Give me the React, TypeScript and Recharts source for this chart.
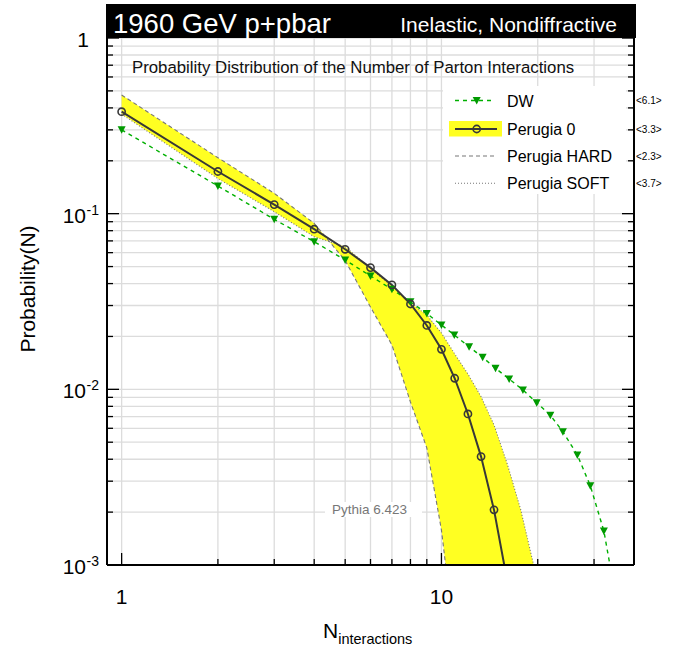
import { ComposedChart, Line, Area, XAxis, YAxis, CartesianGrid, ReferenceLine, Legend } from "recharts"

const FONT = '"Liberation Sans", Arial, Helvetica, sans-serif'

// DW
const dwN = [1, 2, 3, 4, 5, 6, 7, 8, 9, 10, 10.97, 12.2, 13.45, 14.76, 16.28, 17.98, 19.85, 21.9, 23.97, 26.6, 29.2, 32.2, 35.5]
const dwP = [0.3, 0.1437, 0.0929, 0.0692, 0.0545, 0.0442, 0.0371, 0.0315, 0.027, 0.02324, 0.0204, 0.01748, 0.01522, 0.01318, 0.01145, 0.00991, 0.00839, 0.00712, 0.00574, 0.00423, 0.00283, 0.00156, 0.00058]

// Perugia 0
const p0N = [1, 2, 3, 4, 5, 6, 7, 8, 9, 10, 11, 12.1, 13.3, 14.6, 16.1]
const p0P = [0.3806, 0.1738, 0.1126, 0.0816, 0.0627, 0.0493, 0.0393, 0.0306, 0.0231, 0.0169, 0.01156, 0.00724, 0.00414, 0.00206, 0.00079]

// Perugia HARD
const hardN = [1, 2, 3, 4, 5, 6, 7, 8, 9, 10, 11]
const hardP = [0.4737, 0.2083, 0.1306, 0.0881, 0.0541, 0.0294, 0.0179, 0.00847, 0.00464, 0.00158, 0.00037]

// Perugia SOFT
const softN = [1, 2, 3, 4, 5, 6, 7, 8, 9, 10, 11, 12.1, 13.3, 14.6, 16.1, 17.7, 19.5]
const softP = [0.369, 0.1585, 0.1026, 0.0739, 0.0649, 0.0487, 0.0388, 0.031, 0.0265, 0.0209, 0.0159, 0.01223, 0.00908, 0.00627, 0.00371, 0.00206, 0.00097]

const xTicks = [1, 2, 3, 4, 5, 6, 7, 8, 9, 10, 20, 30]
const xMajor = [1, 10]
const xMajorText = ["1", "10"]

const yTicks = [
  0.001, 0.002, 0.003, 0.004, 0.005, 0.006, 0.007, 0.008, 0.009,
  0.01, 0.02, 0.03, 0.04, 0.05, 0.06, 0.07, 0.08, 0.09,
  0.1, 0.2, 0.3, 0.4, 0.5, 0.6, 0.7, 0.8, 0.9, 1,
]
const yMajor = [1, 0.1, 0.01, 0.001]
const yMajorText = ["1", "10", "10", "10"]
const yMajorExp = ["", "-1", "-2", "-3"]

const legendNames = ["DW", "Perugia 0", "Perugia HARD", "Perugia SOFT"]
const legendMeans = ["<6.1>", "<3.3>", "<2.3>", "<3.7>"]

const W = 684
const H = 648
const LEFT = 107
const RIGHT = 634
const TOP = 38
const BOTTOM = 565
const Y_MIN = 0.001
const BAND_FLOOR = 1e-5

const GREEN = "#00b000"
const GREEN_DARK = "#009a00"
const DARK = "#383838"
const GREY = "#777"
const YELLOW = "#ffff22"

const dwData = dwN.map((n, i) => ({ n, p: dwP[i] }))
const p0Data = p0N.map((n, i) => ({ n, p: p0P[i] }))
const hardData = hardN.map((n, i) => ({ n, p: hardP[i] }))
const softData = softN.map((n, i) => ({ n, p: softP[i] }))
const bandData = softN.map((n, i) => ({
  n,
  range: [i < hardP.length ? hardP[i] : BAND_FLOOR, softP[i]],
}))

const isMajor = (list: number[], v: number) => list.findIndex((m) => Math.abs(m - v) < v * 1e-6)

const YTick = (props: any) => {
  const { y, payload } = props
  const i = isMajor(yMajor, payload.value)
  const len = i >= 0 ? 12 : 6
  return (
    <g>
      <line x1={LEFT} x2={LEFT + len} y1={y} y2={y} stroke="#000" strokeWidth={1.3} />
      <line x1={RIGHT - len} x2={RIGHT} y1={y} y2={y} stroke="#000" strokeWidth={1.3} />
      {i >= 0 && yMajorExp[i] === "" && (
        <text x={89} y={y + 9} textAnchor="end" fontSize={21} fontFamily={FONT} fill="#000">
          {yMajorText[i]}
        </text>
      )}
      {i >= 0 && yMajorExp[i] !== "" && (
        <g>
          <text x={86} y={y + 9} textAnchor="end" fontSize={21} fontFamily={FONT} fill="#000">
            {yMajorText[i]}
          </text>
          <text x={86.5} y={y + 1} fontSize={14} fontFamily={FONT} fill="#000">
            {yMajorExp[i]}
          </text>
        </g>
      )}
    </g>
  )
}

const XTick = (props: any) => {
  const { x, payload } = props
  const i = isMajor(xMajor, payload.value)
  const len = i >= 0 ? 12 : 6
  return (
    <g>
      <line x1={x} x2={x} y1={BOTTOM} y2={BOTTOM - len} stroke="#000" strokeWidth={1.3} />
      {i >= 0 && (
        <text x={x} y={604} textAnchor="middle" fontSize={21} fontFamily={FONT} fill="#000">
          {xMajorText[i]}
        </text>
      )}
    </g>
  )
}

const tri = (cx: number, cy: number) => `M${cx - 4},${cy - 3.5}L${cx + 4},${cy - 3.5}L${cx},${cy + 4}Z`

const DwDot = (props: any) => {
  const { cx, cy, payload, index } = props
  if (cx == null || cy == null || payload.p < Y_MIN) return <g key={`dw-${index}`} />
  return <path key={`dw-${index}`} d={tri(cx, cy)} fill={GREEN_DARK} />
}

const P0Dot = (props: any) => {
  const { cx, cy, payload, index } = props
  if (cx == null || cy == null || payload.p < Y_MIN) return <g key={`p0-${index}`} />
  return <circle key={`p0-${index}`} cx={cx} cy={cy} r={3.6} fill="none" stroke={DARK} strokeWidth={1.6} />
}

// legend drawn at page coords offset by (LX, LY)
const LX = 440
const LY = 84
const rowY = [16.5, 45, 72, 99.3]

const LegendBox = () => (
  <svg width={230} height={120} style={{ display: "block", overflow: "visible" }}>
    <rect x={3} y={2} width={183} height={108} fill="#fff" />
    <line x1={15} x2={55} y1={rowY[0]} y2={rowY[0]} stroke={GREEN} strokeWidth={1.4} strokeDasharray="4 4" />
    <path d={tri(36.7, rowY[0])} fill={GREEN_DARK} />
    <rect x={9} y={rowY[1] - 8} width={53} height={15.5} fill={YELLOW} />
    <line x1={15} x2={57} y1={rowY[1]} y2={rowY[1]} stroke={DARK} strokeWidth={2} />
    <circle cx={36.7} cy={rowY[1]} r={3.6} fill="none" stroke={DARK} strokeWidth={1.6} />
    <line x1={15} x2={55} y1={rowY[2]} y2={rowY[2]} stroke={GREY} strokeWidth={1.1} strokeDasharray="4 3" />
    <line x1={15} x2={55} y1={rowY[3]} y2={rowY[3]} stroke={GREY} strokeWidth={1.1} strokeDasharray="1 2" />
    {legendNames.map((name, i) => (
      <text key={name} x={67} y={rowY[i] + 6} fontSize={16} fontFamily={FONT} fill="#000">
        {name}
      </text>
    ))}
    {legendMeans.map((m, i) => (
      <text key={m} x={196} y={rowY[i] + 3.5} fontSize={10} fontFamily={FONT} fill="#000">
        {m}
      </text>
    ))}
  </svg>
)

export default function App() {
  return (
    <div style={{ position: "absolute", left: 0, top: 0, width: W, height: H, background: "#fff", fontFamily: FONT }}>
      <ComposedChart
        width={W}
        height={H}
        margin={{ top: TOP, right: W - RIGHT, bottom: H - BOTTOM - 1, left: LEFT - 1 }}
      >
        <CartesianGrid stroke="#dcdcdc" strokeWidth={1.3} />
        <XAxis
          dataKey="n"
          type="number"
          scale="log"
          domain={[0.9, 40]}
          allowDataOverflow
          ticks={xTicks}
          interval={0}
          height={1}
          tickSize={0}
          tickMargin={0}
          tickLine={false}
          tick={XTick}
          axisLine={{ stroke: "#000", strokeWidth: 2 }}
        />
        <YAxis
          type="number"
          scale="log"
          domain={[Y_MIN, 1]}
          allowDataOverflow
          ticks={yTicks}
          interval={0}
          width={1}
          tickSize={0}
          tickMargin={0}
          tickLine={false}
          tick={YTick}
          axisLine={{ stroke: "#000", strokeWidth: 2 }}
        />
        <ReferenceLine x={40} stroke="#000" strokeWidth={2} />
        <Area
          data={bandData}
          dataKey="range"
          type="linear"
          fill={YELLOW}
          fillOpacity={1}
          stroke="none"
          isAnimationActive={false}
        />
        <Line data={hardData} dataKey="p" type="linear" stroke={GREY} strokeWidth={1.1} strokeDasharray="4 3" dot={false} isAnimationActive={false} />
        <Line data={softData} dataKey="p" type="linear" stroke={GREY} strokeWidth={1.1} strokeDasharray="1 2" dot={false} isAnimationActive={false} />
        <Line data={dwData} dataKey="p" type="linear" stroke={GREEN} strokeWidth={1.4} strokeDasharray="4 4" dot={DwDot} isAnimationActive={false} />
        <Line data={p0Data} dataKey="p" type="linear" stroke={DARK} strokeWidth={2} dot={P0Dot} isAnimationActive={false} />
        <Legend
          layout="vertical"
          align="center"
          verticalAlign="middle"
          content={LegendBox}
          wrapperStyle={{ left: LX, top: LY, width: 230, height: 120 }}
        />
      </ComposedChart>

      <svg width={W} height={H} style={{ position: "absolute", left: 0, top: 0, pointerEvents: "none" }}>
        <rect x={106} y={4} width={530} height={34} fill="#000" />
        <text x={113} y={33} fontSize={27.5} fontFamily={FONT} fill="#fff">1960 GeV p+pbar</text>
        <text x={617} y={32} fontSize={21} fontFamily={FONT} fill="#fff" textAnchor="end">Inelastic, Nondiffractive</text>
        <text x={132} y={73} fontSize={16.8} fontFamily={FONT} fill="#111">
          Probability Distribution of the Number of Parton Interactions
        </text>
        <rect x={325} y={502} width={97} height={15} fill="#fff" />
        <text x={332} y={514} fontSize={13.5} fontFamily={FONT} fill="#777">Pythia 6.423</text>
        <text x={0} y={0} fontSize={21} fontFamily={FONT} fill="#000" textAnchor="middle" transform="translate(35,289) rotate(-90)">
          Probability(N)
        </text>
        <text x={323} y={638} fontSize={21} fontFamily={FONT} fill="#000">
          N<tspan fontSize={14.5} dy={6}>interactions</tspan>
        </text>
      </svg>
    </div>
  )
}
